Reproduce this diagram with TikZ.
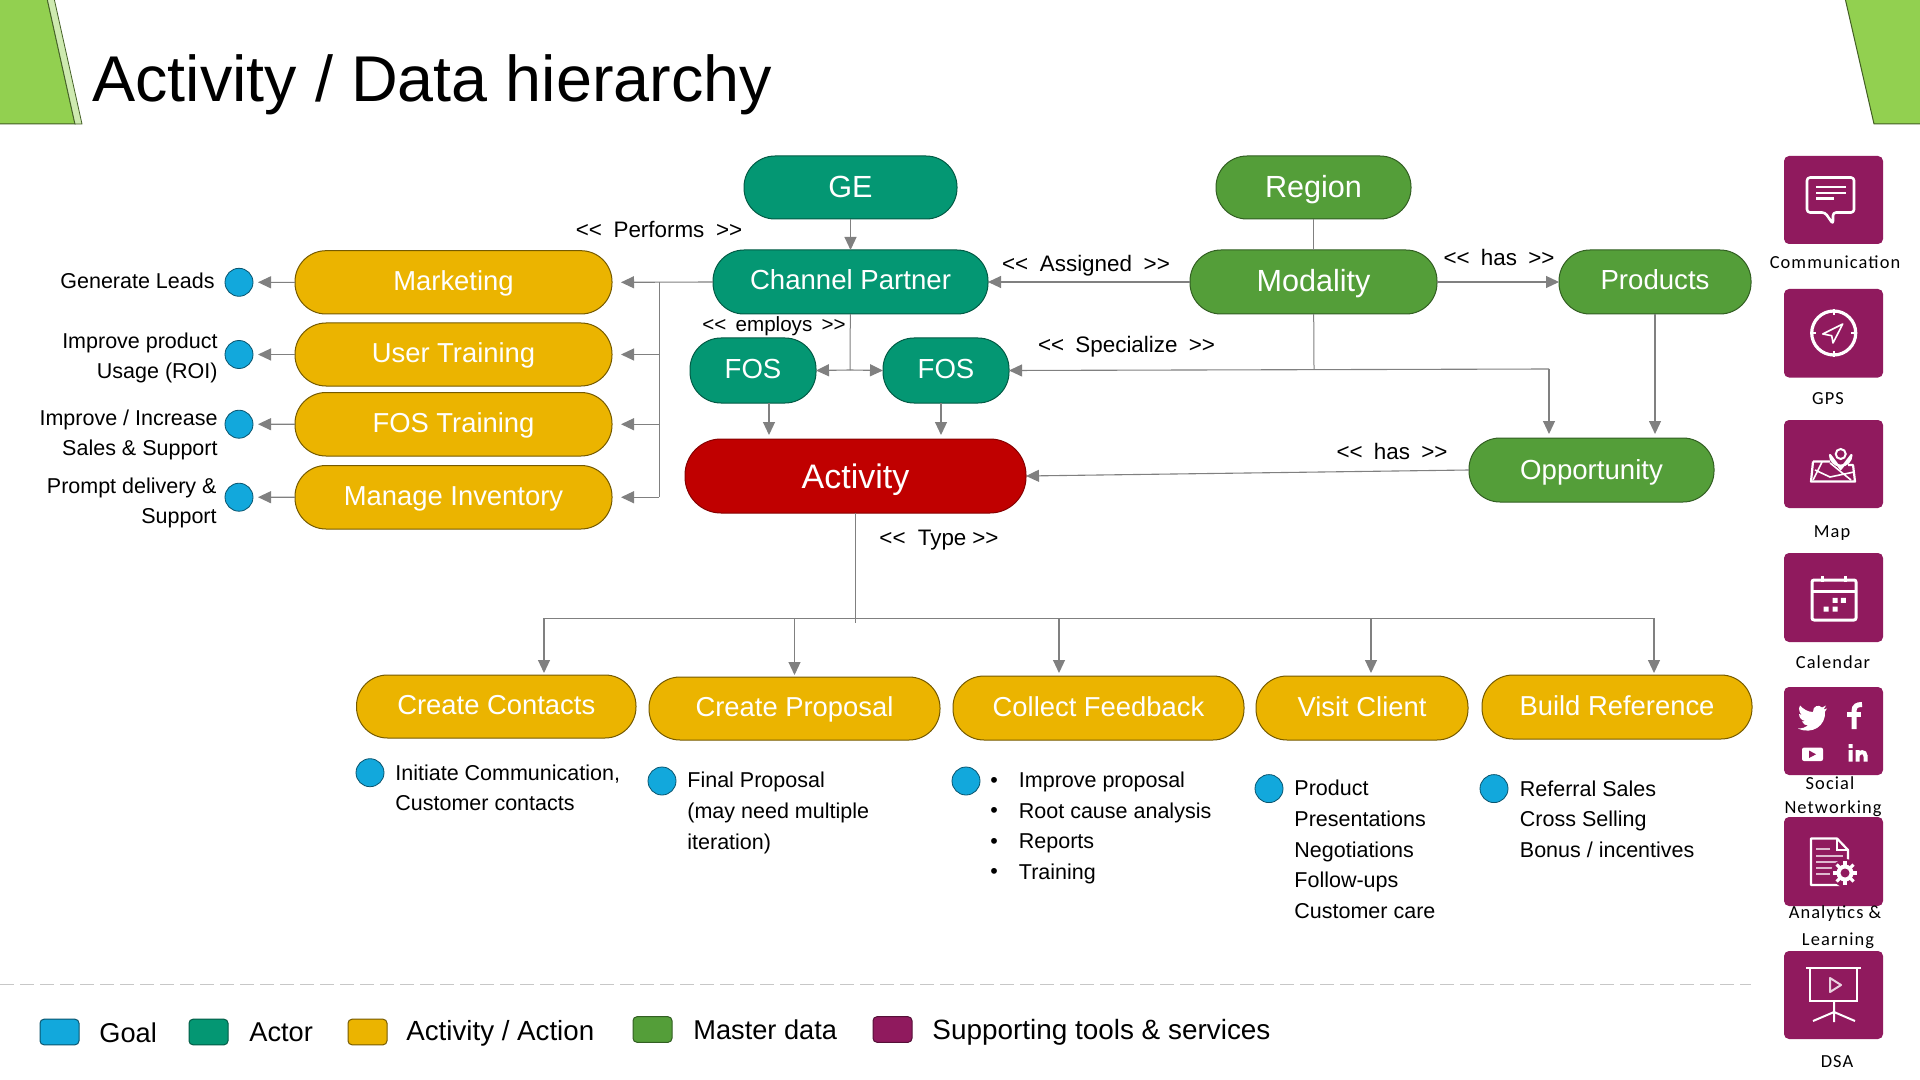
\documentclass[tikz,border=0pt]{standalone}
\usepackage{fontspec}
\setmainfont{Liberation Sans}
\newfontfamily\iconfont[LetterSpace=6]{Carlito}
\usetikzlibrary{arrows.meta,calc}
\definecolor{cyel}{HTML}{EBB400}
\definecolor{cteal}{HTML}{049773}
\definecolor{cgrn}{HTML}{549E39}
\definecolor{cred}{HTML}{C00000}
\definecolor{cblu}{HTML}{12A8DC}
\definecolor{cpur}{HTML}{901A5E}
\definecolor{clime}{HTML}{92D050}
\definecolor{clin}{HTML}{808080}
\newcommand{\pill}[7]{\node[pillbase,#1,minimum width={(#5-#3)*0.5pt},minimum height={(#6-#4)*0.5pt}] (#2) at ({(#3+#5)/2},{(#4+#6)/2}) {#7};}
\newcommand{\goalc}[3]{\node[goalnode] (#1) at (#2,#3) {};}
\newcommand{\tile}[3]{\node[tilebox,minimum height={(#3-#2)*0.5pt}] (#1) at (1833.5,{(#2+#3)/2}) {};}
\newcommand{\sgl}{<{}<}
\newcommand{\sgr}{>{}>}
\tikzset{
 pillbase/.style={rectangle,rounded corners=15.5pt,inner sep=0pt,outer sep=0pt,text=white,line width=.5pt,text height=12pt,text depth=4pt},
 yelp/.style={fill=cyel,draw=cyel!50!black,font=\fontsize{13.7}{16}\selectfont},
 tealp/.style={fill=cteal,draw=cteal!60!black,font=\fontsize{13.8}{16}\selectfont},
 grnp/.style={fill=cgrn,draw=cgrn!60!black,font=\fontsize{13.8}{16}\selectfont},
 bigp/.style={font=\fontsize{15.3}{18}\selectfont,text height=14pt,text depth=4pt},
 goalnode/.style={circle,minimum size=14pt,inner sep=0pt,outer sep=0pt,fill=cblu,draw=cblu!50!black,line width=.4pt},
 conn/.style={draw=clin,line width=.55pt,-{Triangle[length=6.5pt,width=6pt]}},
 plain/.style={draw=clin,line width=.5pt},
 lbl/.style={inner sep=0pt,font=\fontsize{10.75}{15.3}\selectfont,align=left},
 rlbl/.style={inner sep=0pt,font=\fontsize{10.75}{15.3}\selectfont,align=right,anchor=east},
 rellbl/.style={inner sep=0pt,font=\fontsize{11.2}{14}\selectfont},
 tilebox/.style={rectangle,rounded corners=2.5pt,fill=cpur,minimum width=49.5pt,inner sep=0pt,outer sep=0pt},
 captn/.style={inner sep=0pt,font=\fontsize{9.2}{11}\iconfont},
 icn/.style={draw=white,line width=1.3pt,line join=round},
 legbox/.style={rectangle,rounded corners=2pt,minimum width=19.5pt,minimum height=12.8pt,inner sep=0pt,line width=.5pt},
 legt/.style={inner sep=0pt,anchor=west,font=\fontsize{13.6}{16}\selectfont},
}
\begin{document}
\begin{tikzpicture}[x=0.5pt,y=-0.5pt]
\useasboundingbox (0,0) rectangle (1920,1080);
\fill[white] (0,0) rectangle (1920,1080);
% corners
\filldraw[fill=clime,draw=clime!45!black,line width=.5pt] (-2,-2) -- (47,-2) -- (75,124) -- (-2,124) -- cycle;
\filldraw[fill=clime!45!white,draw=clime!45!black,line width=.4pt] (47,-2) -- (54,-2) -- (82,124) -- (75,124) -- cycle;
\filldraw[fill=clime,draw=clime!45!black,line width=.5pt] (1845,-2) -- (1874,124) -- (1922,124) -- (1922,-2) -- cycle;
% title
\node[inner sep=0pt,anchor=base west,font=\fontsize{32.35}{36}\selectfont] (title) at (92,101.5) {Activity / Data hierarchy};
% nodes
\pill{tealp,bigp}{ge}{744}{156}{957}{219}{GE}
\pill{grnp,bigp}{region}{1216}{156}{1411}{219}{Region}
\pill{tealp}{cp}{713}{250}{988}{314}{Channel Partner}
\pill{grnp,bigp}{modality}{1190}{250}{1437}{314}{Modality}
\pill{grnp}{products}{1559}{250}{1751}{314}{Products}
\pill{tealp}{fosa}{690}{338}{816}{403}{FOS}
\pill{tealp}{fosb}{883}{338}{1009}{403}{FOS}
\pill{fill=cred,draw=cred!70!black,font=\fontsize{17}{20}\selectfont,rounded corners=18pt,text height=16pt,text depth=4pt}{activity}{685}{439}{1026}{513}{Activity}
\pill{grnp,text height=13pt}{opp}{1469}{438}{1714}{502}{Opportunity}
\pill{yelp}{mkt}{295}{250.7}{612}{314}{Marketing}
\pill{yelp}{utr}{295}{323}{612}{386}{User Training}
\pill{yelp}{ftr}{295}{392.5}{612}{456}{FOS Training}
\pill{yelp}{inv}{295}{465.5}{612}{529}{Manage Inventory}
\pill{yelp}{cc}{356.5}{675}{636}{738}{Create Contacts}
\pill{yelp}{pr}{649}{677}{940}{740}{Create Proposal}
\pill{yelp}{cf}{953}{676}{1244}{740}{Collect Feedback}
\pill{yelp}{vc}{1256}{676}{1468}{740}{Visit Client}
\pill{yelp}{br}{1482}{675}{1752}{739}{Build Reference}
% goals left
\goalc{ga}{239}{282.3}
\goalc{gb}{239}{354.5}
\goalc{gc}{239}{424.2}
\goalc{gd}{239}{497.2}
\node[rlbl] (tga) at (215,281) {Generate Leads};
\node[rlbl] (tgb) at (218,358) {Improve product\\Usage (ROI)};
\node[rlbl] (tgc) at (218,435) {Improve / Increase\\Sales \& Support};
\node[rlbl] (tgd) at (217,503) {Prompt delivery \&\\Support};
% goals bottom
\goalc{gcc}{370}{772.7}
\goalc{gpr}{662}{781}
\goalc{gcf}{966}{781}
\goalc{gvc}{1269}{788.6}
\goalc{gbr}{1494}{788.6}
\node[lbl,anchor=west] (tcc) at (395,788) {Initiate Communication,\\Customer contacts};
\node[lbl,anchor=west] (tpr) at (687,813) {Final Proposal\\(may need multiple\\iteration)};
\node[lbl,anchor=west] (bul) at (990,828) {•\\•\\•\\•};
\node[lbl,anchor=west] (tcf) at (1018.5,828) {Improve proposal\\Root cause analysis\\Reports\\Training};
\node[lbl,anchor=west] (tvc) at (1294,849.5) {Product\\Presentations\\Negotiations\\Follow-ups\\Customer care};
\node[lbl,anchor=west] (tbr) at (1519.5,819) {Referral Sales\\Cross Selling\\Bonus / incentives};
% relation labels
\node[rellbl] (lperf) at (659,229.5) {\sgl\hspace{2.7pt} Performs \hspace{2.7pt}\sgr};
\node[rellbl,font=\fontsize{10.3}{13}\selectfont] (lemp) at (774,326.5) {\sgl\hspace{1.8pt} employs \hspace{1.8pt}\sgr};
\node[rellbl] (lass) at (1086,266) {\sgl\hspace{2.7pt} Assigned \hspace{2.7pt}\sgr};
\node[rellbl] (lhasa) at (1499,257) {\sgl\hspace{2.5pt} has \hspace{2.5pt}\sgr};
\node[rellbl] (lspec) at (1126.5,347) {\sgl\hspace{2.5pt} Specialize \hspace{2.5pt}\sgr};
\node[rellbl] (lhasb) at (1392,451) {\sgl\hspace{2.5pt} has \hspace{2.5pt}\sgr};
\node[rellbl] (ltype) at (939,540) {\sgl\hspace{3pt} Type\hspace{3pt}\sgr};
% connectors
\coordinate (jcp) at (850,370);
\coordinate (jmod) at (1314,369);
\coordinate (jopp) at (1549,369);
\coordinate (xa) at (769,0);
\coordinate (xb) at (941,0);
\coordinate (tr) at (659,0);
\coordinate (jact) at (855.5,623);
\coordinate (bl) at (544,618);
\coordinate (br2) at (1654,618);
\coordinate (bpr) at (794.5,618);
\coordinate (bcf) at (1059,618);
\coordinate (bvc) at (1371,618);
\draw[conn] (ge) -- (cp);
\draw[plain] (region) -- (modality);
\draw[conn] (modality) -- (cp);
\draw[conn] (modality) -- (products);
\draw[plain] (cp) -- (jcp);
\draw[conn] (jcp) -- (fosa.east);
\draw[conn] (jcp) -- (fosb.west);
\draw[plain] (modality) -- (jmod);
\draw[conn] (jopp) -- (fosb.east);
\draw[conn,shorten >=2pt] (jopp) -- (jopp |- opp.north);
\draw[conn,shorten >=2pt] (products.south) -- (products.south |- opp.north);
\draw[conn,shorten >=2pt] (fosa.south -| xa) -- (activity.north -| xa);
\draw[conn,shorten >=2pt] (fosb.south -| xb) -- (activity.north -| xb);
\draw[conn] (opp.west) -- (activity.east);
\draw[conn,shorten >=4.5pt] (cp.west) -- (mkt.east);
\draw[plain] (mkt.east -| tr) -- (inv.east -| tr);
\draw[conn,shorten >=4.5pt] (utr.east -| tr) -- (utr.east);
\draw[conn,shorten >=4.5pt] (ftr.east -| tr) -- (ftr.east);
\draw[conn,shorten >=4.5pt] (inv.east -| tr) -- (inv.east);
\draw[conn,shorten >=2.5pt] (mkt) -- (ga);
\draw[conn,shorten >=2.5pt] (utr) -- (gb);
\draw[conn,shorten >=2.5pt] (ftr) -- (gc);
\draw[conn,shorten >=2.5pt] (inv) -- (gd);
\draw[plain] (activity.south -| jact) -- (jact);
\draw[plain] (bl) -- (br2);
\draw[conn,shorten >=1pt] (bl) -- (cc.north -| bl);
\draw[conn,shorten >=1pt] (bpr) -- (pr.north -| bpr);
\draw[conn,shorten >=1.5pt] (bcf) -- (cf.north -| bcf);
\draw[conn,shorten >=1.5pt] (bvc) -- (vc.north -| bvc);
\draw[conn,shorten >=1pt] (br2) -- (br.north -| br2);
% tiles
\tile{tca}{156}{244}
\tile{tcb}{289}{377.5}
\tile{tcc2}{420}{508}
\tile{tcd}{553}{642}
\tile{tce}{687}{775}
\tile{tcf2}{817}{906}
\tile{tcg}{951}{1039}
% communication icon
\draw[icn,rounded corners=1.5pt] (1807,177.5) -- (1854,177.5) -- (1854,212.5) -- (1833,212.5) -- (1833,224) -- (1825,212.5) -- (1807,212.5) -- cycle;
\draw[draw=white,line width=1.1pt] (1816,187) -- (1846,187) (1816,193) -- (1846,193) (1816,198.6) -- (1834,198.6);
% gps icon
\draw[icn,line width=1.6pt] (1833.7,333) circle (22);
\draw[draw=white,line width=1.2pt] (1833.7,309) -- (1833.7,315) (1833.7,351) -- (1833.7,357) (1810,333) -- (1816,333) (1851,333) -- (1857,333);
\draw[draw=white,line width=.8pt,line join=round] (1842.7,324) -- (1822.7,334) -- (1831.7,335.7) -- (1833,343) -- cycle;
% map icon
\draw[draw=white,line width=1.1pt,line join=round] (1813,461.5) -- (1830,461.5) (1848,465) -- (1853,465) -- (1855,481.5) -- (1811,481.5) -- (1813,461.5);
\draw[draw=white,line width=.8pt] (1813,480) -- (1822,462) (1815,470) -- (1830,477) -- (1854,472) (1830,463) -- (1851,480);
\fill[cpur] (1840.7,470) -- (1828,454) arc (180:0:12.7) -- cycle;
\draw[draw=white,line width=1.1pt,line join=round] (1840.7,469) -- (1830,455) arc (180:0:10.7) -- cycle;
\draw[draw=white,line width=1pt] (1840.7,454) circle (5);
% calendar icon
\draw[icn,rounded corners=1pt,line width=1.5pt] (1812,580) rectangle (1856,620);
\draw[draw=white,line width=1.5pt] (1812,591.5) -- (1856,591.5) (1822,576) -- (1822,582) (1845,576) -- (1845,582);
\fill[white] (1832.5,597.8) rectangle +(5,5) (1840.8,597.8) rectangle +(5,5) (1823.5,606.5) rectangle +(5,5) (1832.5,606.5) rectangle +(5,5);
% social icon
\fill[white] (1827,708.5) -- (1823.5,709.5) -- (1826,705.5) -- (1822,707.5) .. controls (1819,704) and (1812.5,706) .. (1813,712) .. controls (1808,712) and (1803,709) .. (1800,705.5) .. controls (1798,709) and (1799.5,713) .. (1802,715) -- (1799,714) .. controls (1799,718) and (1802,720.5) .. (1805,721) -- (1802,721.5) .. controls (1803,724) and (1805.5,725.5) .. (1808,725.5) .. controls (1805.5,727.5) and (1802,728.5) .. (1798,728.5) .. controls (1812,735) and (1826,726) .. (1825,711.5) -- cycle;
\draw[draw=white,line width=2.5pt] (1854,729) -- (1854,711) .. controls (1854,706) and (1857,704.5) .. (1862,704.5);
\draw[draw=white,line width=2.2pt] (1847,714.5) -- (1861,714.5);
\fill[white,rounded corners=1pt] (1802,747.6) rectangle (1823,761);
\fill[cpur] (1809,750.5) -- (1816,754.3) -- (1809,758) -- cycle;
\fill[white] (1848.5,744) rectangle (1852.5,748) (1848.5,750) rectangle (1852.5,761.5) (1855.5,750) rectangle (1859.5,761.5) (1863.5,761.5) rectangle (1867.5,755);
\draw[draw=white,line width=2pt] (1857.5,755.5) .. controls (1859,751.5) and (1865.5,750.5) .. (1865.5,756);
% analytics icon
\draw[draw=white,line width=1.1pt,line join=round] (1840,885) -- (1811,885) -- (1811,838.5) -- (1837,838.5) -- (1848,850) -- (1848,860);
\draw[draw=white,line width=.9pt] (1837,838.5) -- (1837,850) -- (1848,850);
\draw[draw=white!70!cpur,line width=1pt] (1816,849) -- (1830,849) (1816,856) -- (1843,856) (1816,862) -- (1843,862) (1816,868) -- (1838,868) (1816,874) -- (1830,874);
\fill[cpur] (1845,873) circle (14);
\foreach \a in {0,45,...,315}{\draw[draw=white,line width=1.6pt] (1845,873) -- ++(\a:12);}
\fill[white] (1845,873) circle (8.5);
\fill[cpur] (1845,873) circle (4.5);
% dsa icon
\draw[draw=white,line width=1.3pt] (1806,968) -- (1861,968);
\draw[draw=white,line width=1.3pt] (1810,968) -- (1810,1001) -- (1857,1001) -- (1857,968);
\draw[draw=white!80!cpur,line width=1pt,line join=round] (1830,978) -- (1841,985) -- (1830,992) -- cycle;
\draw[draw=white,line width=1pt] (1834,1001) -- (1834,1022) (1813,1021) -- (1834,1012) -- (1855,1021);
% captions
\node[captn] (c1) at (1835,262) {Communication};
\node[captn] (c2) at (1828,399) {GPS};
\node[captn] (c3) at (1832,533.5) {Map};
\node[captn] (c4) at (1833,662) {Calendar};
\node[captn] (c5) at (1830,783) {Social};
\node[captn] (c6) at (1833,809) {Networking};
\node[captn] (c7) at (1835,914) {Analytics \&};
\node[captn] (c8) at (1838,941) {Learning};
\node[captn] (c9) at (1837,1062) {DSA};
% divider
\coordinate (da) at (0,984.5);
\coordinate (db) at (1751,984.5);
\draw[draw=black!22,line width=.8pt,dash pattern=on 7pt off 3pt] (da) -- (db);
% legend
\node[legbox,fill=cblu,draw=cblu!50!black] (l1) at (59.5,1032) {};
\node[legbox,fill=cteal,draw=cteal!60!black] (l2) at (208.5,1032) {};
\node[legbox,fill=cyel,draw=cyel!50!black] (l3) at (367.5,1032) {};
\node[legbox,fill=cgrn,draw=cgrn!60!black] (l4) at (652.5,1029.5) {};
\node[legbox,fill=cpur,draw=cpur!60!black] (l5) at (892.5,1029.5) {};
\node[legt] (t1) at (99,1032.5) {Goal};
\node[legt] (t2) at (249,1032.5) {Actor};
\node[legt,font=\fontsize{13.85}{16}\selectfont] (t3) at (406,1033.5) {Activity / Action};
\node[legt] (t4) at (693,1029.5) {Master data};
\node[legt,font=\fontsize{13.95}{16}\selectfont] (t5) at (932,1032.5) {Supporting tools \& services};
\end{tikzpicture}
\end{document}
